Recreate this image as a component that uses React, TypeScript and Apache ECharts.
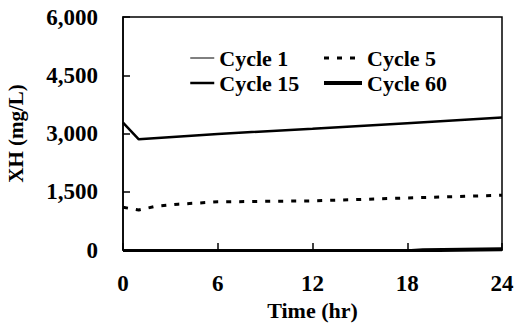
import React, { useEffect, useRef } from "react";
import * as echarts from "echarts";

const cycle1Time = [0, 1, 6, 12, 18, 24];
const cycle1Values = [0, 0, 0, 0, 0, 0];
const cycle5Time = [0, 1, 2, 3.5, 6, 12, 18, 24];
const cycle5Values = [1100, 1030, 1120, 1180, 1240, 1265, 1340, 1410];
const cycle15Time = [0, 1, 6, 12, 18, 24];
const cycle15Values = [3280, 2850, 2990, 3125, 3265, 3410];
const cycle60Time = [0, 1, 6, 12, 18, 19, 24];
const cycle60Values = [-40, -40, -40, -40, -30, -5, 20];
const yTicks = [0, 1500, 3000, 4500, 6000];
const xTicks = [0, 6, 12, 18, 24];

const pairs = (t: number[], v: number[]) => t.map((x, i) => [x, v[i]]);

const FONT = "'Liberation Serif', 'Times New Roman', serif";
const legendText = { fontFamily: FONT, fontWeight: "bold", fontSize: 22, color: "#000", lineHeight: 20 };

export default function App() {
  const ref = useRef<HTMLDivElement>(null);
  useEffect(() => {
    if (!ref.current) return;
    const chart = echarts.init(ref.current, undefined, { renderer: "svg" });
    const axisLine = { show: true, lineStyle: { color: "#000", width: 1.5 } };
    chart.setOption({
      animation: false,
      backgroundColor: "#fff",
      grid: { left: 123, right: 14, top: 17, bottom: 73, outerBoundsMode: "none", containLabel: false },
      legend: [
        {
          data: ["Cycle 1", "Cycle 15"],
          orient: "vertical",
          left: 189,
          top: 47,
          padding: 0,
          itemWidth: 24,
          itemHeight: 14,
          itemGap: 3,
          itemStyle: { opacity: 0 },
          lineStyle: { width: "inherit" },
          textStyle: legendText,
        },
        {
          data: ["Cycle 5", "Cycle 60"],
          orient: "vertical",
          left: 322,
          top: 47,
          padding: 0,
          itemWidth: 38,
          itemHeight: 14,
          itemGap: 3,
          itemStyle: { opacity: 0 },
          lineStyle: { width: "inherit" },
          textStyle: legendText,
        },
      ],
      xAxis: {
        type: "value",
        min: 0,
        max: 24,
        interval: 6,
        name: "Time (hr)",
        nameLocation: "middle",
        nameGap: 49,
        nameTextStyle: { fontFamily: FONT, fontWeight: "bold", fontSize: 22, color: "#000", lineHeight: 20 },
        axisLine,
        axisTick: { show: true, inside: true, length: 7, lineStyle: { color: "#000", width: 1.5 } },
        axisLabel: {
          margin: 22,
          fontFamily: FONT,
          fontWeight: "bold",
          fontSize: 23,
          color: "#000",
          formatter: (v: number) => (xTicks.includes(v) ? String(v) : ""),
        },
        splitLine: { show: false },
      },
      yAxis: {
        type: "value",
        min: 0,
        max: 6000,
        interval: 1500,
        name: "XH (mg/L)",
        nameLocation: "middle",
        nameGap: 97,
        nameRotate: 90,
        nameTextStyle: { fontFamily: FONT, fontWeight: "bold", fontSize: 21, color: "#000" },
        axisLine,
        axisTick: { show: true, inside: true, length: 7, lineStyle: { color: "#000", width: 1.5 } },
        axisLabel: {
          margin: 25,
          fontFamily: FONT,
          fontWeight: "bold",
          fontSize: 23,
          color: "#000",
          formatter: (v: number) => (yTicks.includes(v) ? v.toLocaleString("en-US") : ""),
        },
        splitLine: { show: false },
      },
      graphic: [
        {
          type: "rect",
          shape: { x: 123, y: 17, width: 379, height: 233 },
          style: { fill: "none", stroke: "#000", lineWidth: 1.5 },
          silent: true,
          z: 0,
        },
      ],
      series: [
        {
          name: "Cycle 1",
          type: "line",
          data: pairs(cycle1Time, cycle1Values),
          symbol: "none",
          lineStyle: { color: "#000", width: 1 },
          itemStyle: { color: "#000" },
        },
        {
          name: "Cycle 5",
          type: "line",
          data: pairs(cycle5Time, cycle5Values),
          symbol: "none",
          lineStyle: { color: "#000", width: 3, type: [5, 8] },
          itemStyle: { color: "#000" },
        },
        {
          name: "Cycle 15",
          type: "line",
          data: pairs(cycle15Time, cycle15Values),
          symbol: "none",
          lineStyle: { color: "#000", width: 2.5 },
          itemStyle: { color: "#000" },
        },
        {
          name: "Cycle 60",
          type: "line",
          data: pairs(cycle60Time, cycle60Values),
          symbol: "none",
          lineStyle: { color: "#000", width: 4 },
          itemStyle: { color: "#000" },
        },
      ],
    });
    return () => chart.dispose();
  }, []);
  return <div ref={ref} style={{ width: 516, height: 323, position: "absolute", left: 0, top: 0 }} />;
}
